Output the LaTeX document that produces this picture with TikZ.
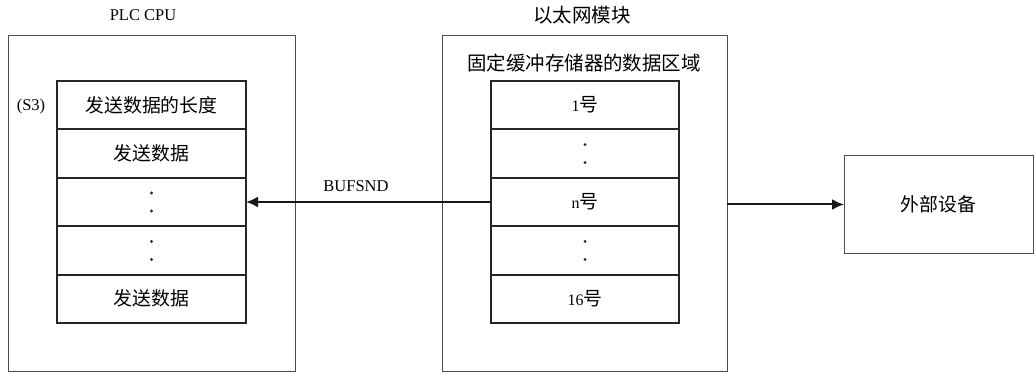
\documentclass[tikz,border=0pt]{standalone}
\usepackage{fontspec}
\setmainfont{Liberation Serif}
\newfontfamily\cjk{Noto Sans CJK SC}[Scale=1.18]
\usetikzlibrary{arrows.meta}
\begin{document}
\begin{tikzpicture}[x=1pt,y=-1pt,
  outerbox/.style={draw=black!70,line width=1pt,outer sep=0pt},
  cell/.style={draw=black!85,line width=1.8pt,minimum height=48.4pt,inner sep=0pt,outer sep=0pt,font=\fontsize{16}{18}\selectfont},
  plccell/.style={cell,minimum width=189pt},
  ethcell/.style={cell,minimum width=188pt},
  lbl/.style={inner sep=0pt,font=\fontsize{16.5}{18}\selectfont},
  conn/.style={line width=2pt,draw=black!90,-{Latex[length=12pt,width=11pt]}},
  dotmark/.style={circle,fill=black!85,inner sep=0pt,minimum size=3.2pt}
]
\useasboundingbox (0,0) rectangle (1036,374);
% outer boxes
\node[outerbox,minimum width=287pt,minimum height=335pt,inner sep=0pt,anchor=north west] (plc) at (8,36) {};
\node[outerbox,minimum width=285pt,minimum height=335pt,inner sep=0pt,anchor=north west] (eth) at (442,36) {};
\node[outerbox,minimum width=189pt,minimum height=97pt,inner sep=0pt,anchor=north west,font=\fontsize{16}{18}\selectfont] (ext) at (844,156) {\cjk 外部设备};
% titles
\node[lbl] (plct) at (143,15) {PLC CPU};
\node[lbl] (etht) at (582,15) {\cjk 以太网模块};
\node[lbl] (etharea) at (584,63) {\cjk 固定缓冲存储器的数据区域};
% PLC stack
\node[plccell,anchor=north] (p1) at (151.5,81) {\cjk 发送数据的长度};
\node[plccell,anchor=north] (p2) at (p1.south) {\cjk 发送数据};
\node[plccell,anchor=north] (p3) at (p2.south) {};
\node[plccell,anchor=north] (p4) at (p3.south) {};
\node[plccell,anchor=north] (p5) at (p4.south) {\cjk 发送数据};
\node[lbl] (s3) at (31,107) {(S3)};
% Ethernet stack
\node[ethcell,anchor=north] (e1) at (585,81) {1{\cjk 号}};
\node[ethcell,anchor=north] (e2) at (e1.south) {};
\node[ethcell,anchor=north] (e3) at (e2.south) {n{\cjk 号}};
\node[ethcell,anchor=north] (e4) at (e3.south) {};
\node[ethcell,anchor=north] (e5) at (e4.south) {16{\cjk 号}};
% dots
\foreach \c in {p3,p4,e2,e4}{
  \node[dotmark] at ([yshift=-9pt]\c.center) {};
  \node[dotmark] at ([yshift=9pt]\c.center) {};
}
% connectors
\draw[conn] (e3.west) -- (p3.east);
\node[lbl] (buf) at (356,186) {BUFSND};
\draw[conn] (eth.east |- ext.west) -- (ext.west);
\end{tikzpicture}
\end{document}
